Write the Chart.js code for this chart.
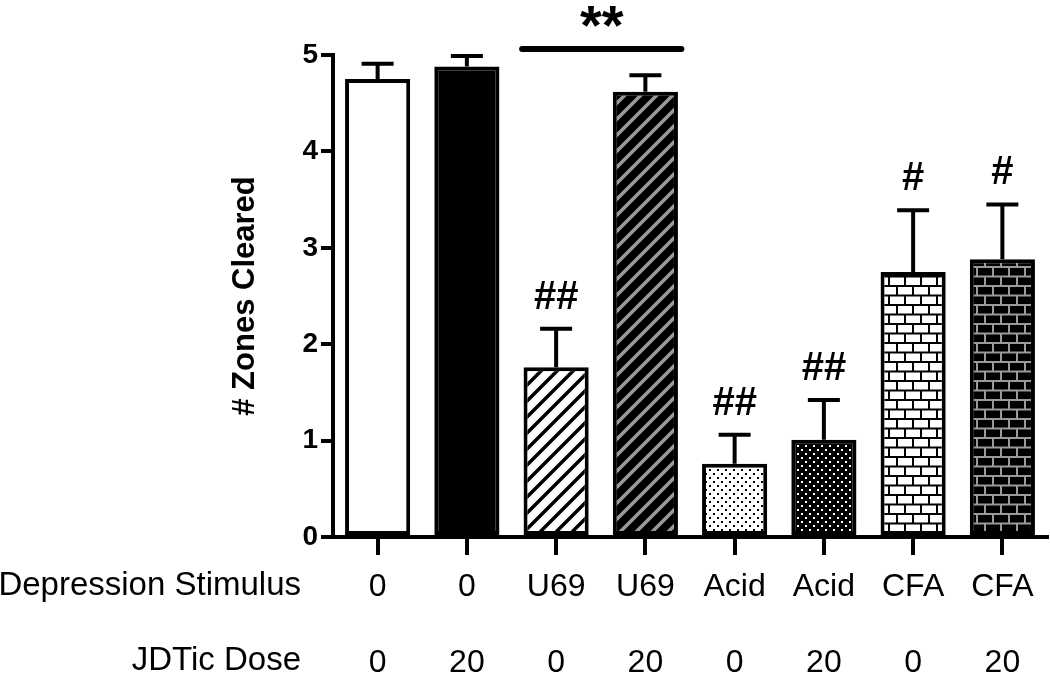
<!DOCTYPE html>
<html>
<head>
<meta charset="utf-8">
<script src="https://cdn.jsdelivr.net/npm/chart.js@4.4.1/dist/chart.umd.min.js"></script>
<style>
  body { margin: 0; background: #fff; }
</style>
</head>
<body>
<canvas id="zonesChart" width="1050" height="673"></canvas>
<script>
// data
var stimulus = ['0', '0', 'U69', 'U69', 'Acid', 'Acid', 'CFA', 'CFA'];
var dose = ['0', '20', '0', '20', '0', '20', '0', '20'];
var zonesMean = [4.75, 4.88, 1.76, 4.62, 0.76, 1.01, 2.75, 2.88];
var zonesSem = [0.16, 0.11, 0.40, 0.17, 0.30, 0.41, 0.64, 0.57];
var marks = ['', '', '##', '', '##', '##', '#', '#'];
var yTicks = [0, 1, 2, 3, 4, 5];

// fill patterns
function makeTile(w, h, draw) {
  var c = document.createElement('canvas');
  c.width = w; c.height = h;
  draw(c.getContext('2d'), w, h);
  return document.createElement('canvas').getContext('2d').createPattern(c, 'repeat');
}

function stripes(bg, fg) {
  return makeTile(16, 16, function (g, w, h) {
    g.fillStyle = bg; g.fillRect(0, 0, w, h);
    g.strokeStyle = fg; g.lineWidth = 3.5;
    g.beginPath();
    g.moveTo(-4, h + 4); g.lineTo(w + 4, -4);
    g.moveTo(-4, 4); g.lineTo(4, -4);
    g.moveTo(w - 4, h + 4); g.lineTo(w + 4, h - 4);
    g.stroke();
  });
}

function dots(bg, fg) {
  return makeTile(8, 8, function (g, w, h) {
    g.fillStyle = bg; g.fillRect(0, 0, w, h);
    g.fillStyle = fg;
    g.fillRect(1, 1, 2, 2);
    g.fillRect(5, 5, 2, 2);
  });
}

function bricks(bg, fg) {
  return makeTile(32, 19, function (g, w, h) {
    g.fillStyle = bg; g.fillRect(0, 0, w, h);
    g.fillStyle = fg;
    g.fillRect(0, 0, w, 2);
    g.fillRect(0, 9.5, w, 2);
    g.fillRect(0, 0, 2, 10);
    g.fillRect(16, 0, 2, 10);
    g.fillRect(8, 10, 2, 9);
    g.fillRect(24, 10, 2, 9);
  });
}

var fills = [
  '#ffffff',
  '#000000',
  stripes('#ffffff', '#000000'),
  stripes('#000000', '#9a9a9a'),
  dots('#ffffff', '#000000'),
  dots('#000000', '#ffffff'),
  bricks('#ffffff', '#000000'),
  bricks('#000000', '#9a9a9a')
];

var errorBars = {
  id: 'errorBars',
  afterDatasetsDraw: function (chart) {
    var ctx = chart.ctx;
    var x = chart.scales.x, y = chart.scales.y;
    ctx.save();
    ctx.strokeStyle = '#000';
    ctx.lineWidth = 4;
    ctx.lineCap = 'butt';
    for (var i = 0; i < zonesMean.length; i++) {
      var px = x.getPixelForValue(i);
      var top = y.getPixelForValue(zonesMean[i] + zonesSem[i]);
      var base = y.getPixelForValue(zonesMean[i]);
      ctx.beginPath();
      ctx.moveTo(px, base);
      ctx.lineTo(px, top);
      ctx.moveTo(px - 16, top);
      ctx.lineTo(px + 16, top);
      ctx.stroke();
      if (marks[i]) {
        ctx.fillStyle = '#000';
        ctx.font = 'bold 40px Arial, "Liberation Sans", sans-serif';
        ctx.textAlign = 'center';
        ctx.textBaseline = 'middle';
        ctx.fillText(marks[i], px, top - 31);
      }
    }
    // significance bracket over the U69 pair
    var lineY = y.getPixelForValue(5) - 6;
    var x1 = x.getPixelForValue(2) - 34;
    var x2 = x.getPixelForValue(3) + 36;
    ctx.lineWidth = 6;
    ctx.lineCap = 'round';
    ctx.beginPath();
    ctx.moveTo(x1, lineY);
    ctx.lineTo(x2, lineY);
    ctx.stroke();
    ctx.fillStyle = '#000';
    ctx.font = 'bold 56px Arial, "Liberation Sans", sans-serif';
    ctx.textAlign = 'center';
    ctx.textBaseline = 'middle';
    ctx.fillText('**', (x1 + x2) / 2, lineY - 20);

    // row titles for the category labels
    ctx.font = '33px Arial, "Liberation Sans", sans-serif';
    ctx.textAlign = 'right';
    ctx.fillText('Depression Stimulus', 301, 586);
    ctx.fillText('JDTic Dose', 301, 661);
    ctx.restore();
  }
};

var canvas = document.getElementById('zonesChart');
var chart = new Chart(canvas, {
  type: 'bar',
  data: {
    labels: stimulus.map(function (s, i) { return [s, dose[i]]; }),
    datasets: [{
      data: zonesMean,
      backgroundColor: fills,
      borderColor: '#000',
      borderWidth: 4,
      borderSkipped: false,
      barPercentage: 0.73,
      categoryPercentage: 1.0
    }]
  },
  options: {
    responsive: false,
    animation: false,
    layout: { padding: { top: 55, right: 3, left: 0, bottom: 0 } },
    plugins: {
      legend: { display: false },
      tooltip: { enabled: false }
    },
    scales: {
      x: {
        offset: true,
        grid: { drawOnChartArea: false, offset: false, tickLength: 18, lineWidth: 4, color: '#000' },
        border: { display: true, width: 4, color: '#000' },
        ticks: {
          color: '#000',
          font: { family: 'Arial, "Liberation Sans", sans-serif', size: 32, lineHeight: 2.35 },
          padding: -5,
          maxRotation: 0,
          autoSkip: false
        },
        afterFit: function (s) { s.height = 136; }
      },
      y: {
        min: 0,
        max: 5,
        afterBuildTicks: function (s) { s.ticks = yTicks.map(function (v) { return { value: v }; }); },
        grid: { drawOnChartArea: false, tickLength: 12, lineWidth: 4, color: '#000' },
        border: { display: true, width: 4, color: '#000' },
        ticks: {
          color: '#000',
          font: { family: 'Arial, "Liberation Sans", sans-serif', size: 28, weight: 'bold' },
          padding: 3
        },
        title: {
          display: true,
          text: '# Zones Cleared',
          color: '#000',
          font: { family: 'Arial, "Liberation Sans", sans-serif', size: 31, weight: 'bold' },
          padding: { top: 227, bottom: 0 }
        },
        afterFit: function (s) { s.width = 333; }
      }
    }
  },
  plugins: [errorBars]
});
</script>
</body>
</html>
